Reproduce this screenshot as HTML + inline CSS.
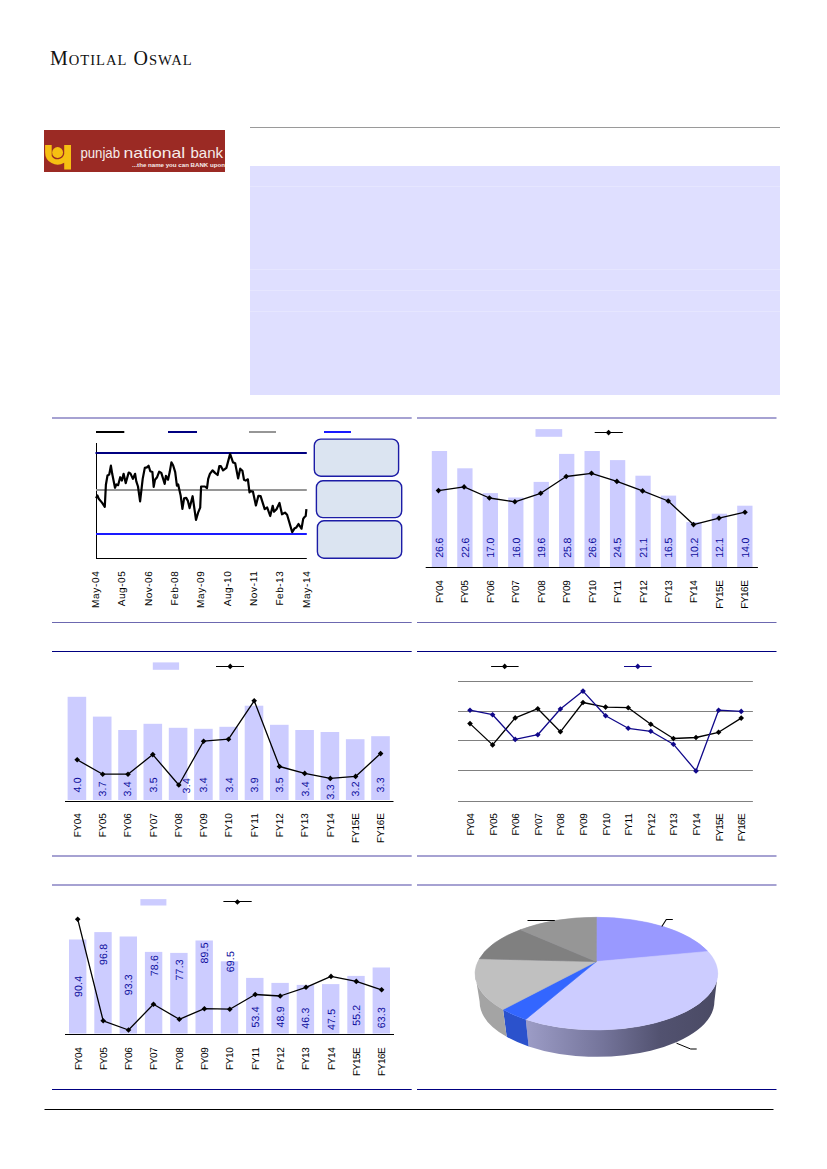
<!DOCTYPE html>
<html><head><meta charset="utf-8"><style>
html,body{margin:0;padding:0;background:#fff;}
body{width:827px;height:1169px;position:relative;overflow:hidden;font-family:"Liberation Sans",sans-serif;}
.logo{position:absolute;left:44px;top:130px;width:181px;height:42px;background:#9b2a24;overflow:hidden;}
.mo{position:absolute;left:50px;top:47px;font-family:"Liberation Serif",serif;font-size:20px;letter-spacing:1.0px;color:#111;white-space:nowrap;}
.mo small{font-size:14.6px;}
.gl{position:absolute;left:250px;top:127px;width:530px;height:1px;background:#9a9a9a;}
.box{position:absolute;left:250px;top:166px;width:530px;height:229px;background:#dfdfff;}
.box i{position:absolute;left:0;width:530px;height:1px;background:#e6e6ff;}
svg{position:absolute;left:0;top:0;}
</style></head><body>
<div class="mo">M<small>OTILAL</small> O<small>SWAL</small></div>
<div class="gl"></div>
<div class="box"><i style="top:20px"></i><i style="top:103px"></i><i style="top:124px"></i><i style="top:145px"></i></div>
<div class="logo">
<svg width="181" height="42" viewBox="0 0 181 42" style="position:absolute;left:0;top:0">
<path d="M1.1 14.9 H7.7 V25.9 A6.8 6.8 0 0 0 20.2 24.1 V14.9 H27 V39.6 H20.2 V32.8 A12.5 12.5 0 0 1 1.1 22.2 Z" fill="#f6bf12"/>
<circle cx="13.6" cy="22.5" r="5.45" fill="#f6bf12"/>
<g font-family="Liberation Sans" font-size="15" fill="#f6ecea" lengthAdjust="spacingAndGlyphs">
<text x="36.4" y="28.4" textLength="39.6" lengthAdjust="spacingAndGlyphs">punjab</text>
<text x="79.6" y="28.4" textLength="61.6" lengthAdjust="spacingAndGlyphs">national</text>
<text x="146.5" y="28.4" textLength="32.6" lengthAdjust="spacingAndGlyphs">bank</text>
</g>
<text x="88" y="37" font-family="Liberation Sans" font-size="6" font-weight="bold" fill="#f6ecea" textLength="95" lengthAdjust="spacingAndGlyphs">...the name you can BANK upon!</text>
</svg></div>
<svg width="827" height="1169" viewBox="0 0 827 1169" font-family="Liberation Sans, sans-serif">
<line x1="52" y1="418" x2="411.7" y2="418" stroke="#a6a2d2" stroke-width="2"/>
<line x1="417" y1="418" x2="776.5" y2="418" stroke="#a6a2d2" stroke-width="2"/>
<line x1="52" y1="622.5" x2="411.7" y2="622.5" stroke="#6c68b0" stroke-width="1"/>
<line x1="417" y1="622.5" x2="776.5" y2="622.5" stroke="#6c68b0" stroke-width="1"/>
<line x1="52" y1="651.5" x2="411.7" y2="651.5" stroke="#000080" stroke-width="1"/>
<line x1="417" y1="651.5" x2="776.5" y2="651.5" stroke="#000080" stroke-width="1"/>
<line x1="52" y1="856" x2="411.7" y2="856" stroke="#a6a2d2" stroke-width="2"/>
<line x1="417" y1="856" x2="776.5" y2="856" stroke="#a6a2d2" stroke-width="2"/>
<line x1="52" y1="885" x2="411.7" y2="885" stroke="#a6a2d2" stroke-width="2"/>
<line x1="417" y1="885" x2="776.5" y2="885" stroke="#a6a2d2" stroke-width="2"/>
<line x1="52" y1="1089.5" x2="411.7" y2="1089.5" stroke="#000080" stroke-width="1"/>
<line x1="417" y1="1089.5" x2="776.5" y2="1089.5" stroke="#000080" stroke-width="1"/>
<line x1="44.5" y1="1109.5" x2="773.5" y2="1109.5" stroke="#000" stroke-width="1"/>
<line x1="96.5" y1="443" x2="96.5" y2="558.5" stroke="#000" stroke-width="1"/>
<line x1="96" y1="558.5" x2="306.8" y2="558.5" stroke="#000" stroke-width="1"/>
<line x1="95.5" y1="453" x2="306.8" y2="453" stroke="#000080" stroke-width="2"/>
<line x1="96" y1="490" x2="306.8" y2="490" stroke="#969696" stroke-width="2"/>
<line x1="96" y1="534" x2="306.8" y2="534" stroke="#1a1aff" stroke-width="2"/>
<line x1="96" y1="432" x2="124.3" y2="432" stroke="#000" stroke-width="2"/>
<line x1="168" y1="432" x2="197" y2="432" stroke="#000080" stroke-width="2"/>
<line x1="249" y1="432" x2="276" y2="432" stroke="#969696" stroke-width="2"/>
<line x1="324" y1="432" x2="351" y2="432" stroke="#1a1aff" stroke-width="2"/>
<path d="M96.10 498.30 L97.40 495.40 L98.70 498.70 L102.00 502.60 L104.80 506.80 L105.90 484.80 L107.50 475.50 L109.20 474.60 L110.90 465.70 L112.20 473.80 L115.00 487.70 L116.40 484.40 L118.10 485.20 L120.20 477.20 L121.90 480.60 L123.60 473.80 L125.70 483.10 L128.70 472.50 L130.40 473.40 L132.90 478.90 L135.10 473.80 L136.30 481.40 L138.00 486.50 L140.10 501.30 L142.70 478.90 L144.80 467.90 L146.90 467.40 L148.60 465.70 L150.30 471.20 L152.40 472.10 L153.70 486.90 L155.00 479.70 L157.10 477.20 L159.20 471.70 L161.30 472.90 L164.70 483.90 L165.90 475.90 L168.00 479.70 L169.70 472.10 L171.40 462.40 L173.10 465.30 L175.20 472.10 L176.90 485.60 L178.20 484.40 L179.00 488.20 L180.70 495.80 L182.40 508.90 L184.10 498.30 L186.20 497.90 L187.90 500.90 L189.60 508.10 L192.60 496.20 L196.00 519.90 L198.10 512.70 L200.20 507.60 L201.10 486.50 L204.90 486.50 L207.00 488.20 L208.20 478.90 L209.90 473.80 L212.50 470.40 L215.00 472.90 L217.60 475.00 L219.30 466.20 L220.90 466.20 L223.10 470.40 L226.40 467.90 L230.10 453.90 L233.00 462.40 L235.20 463.20 L238.10 478.40 L240.20 468.70 L242.40 470.80 L244.00 479.70 L245.70 480.60 L247.90 479.30 L249.50 492.40 L250.40 491.10 L252.90 491.60 L255.90 505.50 L258.40 495.80 L260.60 496.20 L264.70 509.20 L267.20 507.50 L270.20 516.00 L272.70 505.80 L274.00 511.70 L276.50 509.20 L279.50 502.90 L282.00 514.30 L285.00 512.60 L287.10 514.70 L292.20 532.10 L294.70 528.20 L296.40 527.40 L298.50 524.00 L301.50 528.70 L303.20 518.90 L304.40 517.20 L305.70 516.00 L306.40 509.20" fill="none" stroke="#000" stroke-width="2.2" stroke-linejoin="round"/>
<rect x="314.3" y="439.1" width="84.3" height="37.1" rx="6.5" ry="6.5" fill="#dbe4f1" stroke="#1c1ca6" stroke-width="1.4"/>
<rect x="316.4" y="480.8" width="85.3" height="36.8" rx="6.5" ry="6.5" fill="#dbe4f1" stroke="#1c1ca6" stroke-width="1.4"/>
<rect x="317.4" y="520.8" width="84.3" height="37.4" rx="6.5" ry="6.5" fill="#dbe4f1" stroke="#1c1ca6" stroke-width="1.4"/>
<text transform="translate(98.90,571.30) rotate(-90) scale(1,1)" text-rendering="geometricPrecision" text-anchor="end" font-size="10" fill="#000" textLength="36.60" lengthAdjust="spacing">May-04</text>
<text transform="translate(125.25,571.30) rotate(-90) scale(1,1)" text-rendering="geometricPrecision" text-anchor="end" font-size="10" fill="#000" textLength="35.00" lengthAdjust="spacing">Aug-05</text>
<text transform="translate(151.60,571.30) rotate(-90) scale(1,1)" text-rendering="geometricPrecision" text-anchor="end" font-size="10" fill="#000" textLength="34.80" lengthAdjust="spacing">Nov-06</text>
<text transform="translate(177.95,571.30) rotate(-90) scale(1,1)" text-rendering="geometricPrecision" text-anchor="end" font-size="10" fill="#000" textLength="34.20" lengthAdjust="spacing">Feb-08</text>
<text transform="translate(204.30,571.30) rotate(-90) scale(1,1)" text-rendering="geometricPrecision" text-anchor="end" font-size="10" fill="#000" textLength="36.60" lengthAdjust="spacing">May-09</text>
<text transform="translate(230.65,571.30) rotate(-90) scale(1,1)" text-rendering="geometricPrecision" text-anchor="end" font-size="10" fill="#000" textLength="35.00" lengthAdjust="spacing">Aug-10</text>
<text transform="translate(257.00,571.30) rotate(-90) scale(1,1)" text-rendering="geometricPrecision" text-anchor="end" font-size="10" fill="#000" textLength="34.80" lengthAdjust="spacing">Nov-11</text>
<text transform="translate(283.35,571.30) rotate(-90) scale(1,1)" text-rendering="geometricPrecision" text-anchor="end" font-size="10" fill="#000" textLength="34.20" lengthAdjust="spacing">Feb-13</text>
<text transform="translate(309.70,571.30) rotate(-90) scale(1,1)" text-rendering="geometricPrecision" text-anchor="end" font-size="10" fill="#000" textLength="36.60" lengthAdjust="spacing">May-14</text>
<rect x="431.8" y="451" width="15.3" height="116" fill="#ccccff"/>
<rect x="457.25" y="468.3" width="15.3" height="98.69999999999999" fill="#ccccff"/>
<rect x="482.7" y="493.1" width="15.3" height="73.89999999999998" fill="#ccccff"/>
<rect x="508.15" y="497.5" width="15.3" height="69.5" fill="#ccccff"/>
<rect x="533.6" y="481.9" width="15.3" height="85.10000000000002" fill="#ccccff"/>
<rect x="559.05" y="453.9" width="15.3" height="113.10000000000002" fill="#ccccff"/>
<rect x="584.5" y="451" width="15.3" height="116" fill="#ccccff"/>
<rect x="609.95" y="460.1" width="15.3" height="106.89999999999998" fill="#ccccff"/>
<rect x="635.4" y="475.7" width="15.3" height="91.30000000000001" fill="#ccccff"/>
<rect x="660.85" y="495.6" width="15.3" height="71.39999999999998" fill="#ccccff"/>
<rect x="686.3" y="522.1" width="15.3" height="44.89999999999998" fill="#ccccff"/>
<rect x="711.75" y="513.7" width="15.3" height="53.299999999999955" fill="#ccccff"/>
<rect x="737.2" y="505.7" width="15.3" height="61.30000000000001" fill="#ccccff"/>
<line x1="425.7" y1="567.5" x2="757.9" y2="567.5" stroke="#000" stroke-width="1"/>
<path d="M438.50 490.60 L464.10 486.90 L489.40 498.00 L514.90 501.80 L540.70 493.30 L566.20 476.50 L591.50 473.30 L616.90 481.40 L642.60 490.90 L668.20 501.00 L693.50 524.60 L719.00 518.10 L745.00 512.20" fill="none" stroke="#000" stroke-width="1.3" stroke-linejoin="round"/>
<path d="M438.50 487.80L441.30 490.60L438.50 493.40L435.70 490.60Z" fill="#000"/>
<path d="M464.10 484.10L466.90 486.90L464.10 489.70L461.30 486.90Z" fill="#000"/>
<path d="M489.40 495.20L492.20 498.00L489.40 500.80L486.60 498.00Z" fill="#000"/>
<path d="M514.90 499.00L517.70 501.80L514.90 504.60L512.10 501.80Z" fill="#000"/>
<path d="M540.70 490.50L543.50 493.30L540.70 496.10L537.90 493.30Z" fill="#000"/>
<path d="M566.20 473.70L569.00 476.50L566.20 479.30L563.40 476.50Z" fill="#000"/>
<path d="M591.50 470.50L594.30 473.30L591.50 476.10L588.70 473.30Z" fill="#000"/>
<path d="M616.90 478.60L619.70 481.40L616.90 484.20L614.10 481.40Z" fill="#000"/>
<path d="M642.60 488.10L645.40 490.90L642.60 493.70L639.80 490.90Z" fill="#000"/>
<path d="M668.20 498.20L671.00 501.00L668.20 503.80L665.40 501.00Z" fill="#000"/>
<path d="M693.50 521.80L696.30 524.60L693.50 527.40L690.70 524.60Z" fill="#000"/>
<path d="M719.00 515.30L721.80 518.10L719.00 520.90L716.20 518.10Z" fill="#000"/>
<path d="M745.00 509.40L747.80 512.20L745.00 515.00L742.20 512.20Z" fill="#000"/>
<text transform="translate(443.30,557.70) rotate(-90) scale(1,1)" text-rendering="geometricPrecision" text-anchor="start" font-size="10.5" fill="#0c0c9c" textLength="20.00" lengthAdjust="spacing">26.6</text>
<text transform="translate(468.75,557.70) rotate(-90) scale(1,1)" text-rendering="geometricPrecision" text-anchor="start" font-size="10.5" fill="#0c0c9c" textLength="20.00" lengthAdjust="spacing">22.6</text>
<text transform="translate(494.20,557.70) rotate(-90) scale(1,1)" text-rendering="geometricPrecision" text-anchor="start" font-size="10.5" fill="#0c0c9c" textLength="20.00" lengthAdjust="spacing">17.0</text>
<text transform="translate(519.65,557.70) rotate(-90) scale(1,1)" text-rendering="geometricPrecision" text-anchor="start" font-size="10.5" fill="#0c0c9c" textLength="20.00" lengthAdjust="spacing">16.0</text>
<text transform="translate(545.10,557.70) rotate(-90) scale(1,1)" text-rendering="geometricPrecision" text-anchor="start" font-size="10.5" fill="#0c0c9c" textLength="20.00" lengthAdjust="spacing">19.6</text>
<text transform="translate(570.55,557.70) rotate(-90) scale(1,1)" text-rendering="geometricPrecision" text-anchor="start" font-size="10.5" fill="#0c0c9c" textLength="20.00" lengthAdjust="spacing">25.8</text>
<text transform="translate(596.00,557.70) rotate(-90) scale(1,1)" text-rendering="geometricPrecision" text-anchor="start" font-size="10.5" fill="#0c0c9c" textLength="20.00" lengthAdjust="spacing">26.6</text>
<text transform="translate(621.45,557.70) rotate(-90) scale(1,1)" text-rendering="geometricPrecision" text-anchor="start" font-size="10.5" fill="#0c0c9c" textLength="20.00" lengthAdjust="spacing">24.5</text>
<text transform="translate(646.90,557.70) rotate(-90) scale(1,1)" text-rendering="geometricPrecision" text-anchor="start" font-size="10.5" fill="#0c0c9c" textLength="20.00" lengthAdjust="spacing">21.1</text>
<text transform="translate(672.35,557.70) rotate(-90) scale(1,1)" text-rendering="geometricPrecision" text-anchor="start" font-size="10.5" fill="#0c0c9c" textLength="20.00" lengthAdjust="spacing">16.5</text>
<text transform="translate(697.80,557.70) rotate(-90) scale(1,1)" text-rendering="geometricPrecision" text-anchor="start" font-size="10.5" fill="#0c0c9c" textLength="20.00" lengthAdjust="spacing">10.2</text>
<text transform="translate(723.25,557.70) rotate(-90) scale(1,1)" text-rendering="geometricPrecision" text-anchor="start" font-size="10.5" fill="#0c0c9c" textLength="20.00" lengthAdjust="spacing">12.1</text>
<text transform="translate(748.70,557.70) rotate(-90) scale(1,1)" text-rendering="geometricPrecision" text-anchor="start" font-size="10.5" fill="#0c0c9c" textLength="20.00" lengthAdjust="spacing">14.0</text>
<text transform="translate(442.90,580.20) rotate(-90) scale(1,1)" text-rendering="geometricPrecision" text-anchor="end" font-size="10" fill="#000" textLength="22.80" lengthAdjust="spacing">FY04</text>
<text transform="translate(468.35,580.20) rotate(-90) scale(1,1)" text-rendering="geometricPrecision" text-anchor="end" font-size="10" fill="#000" textLength="22.80" lengthAdjust="spacing">FY05</text>
<text transform="translate(493.80,580.20) rotate(-90) scale(1,1)" text-rendering="geometricPrecision" text-anchor="end" font-size="10" fill="#000" textLength="22.80" lengthAdjust="spacing">FY06</text>
<text transform="translate(519.25,580.20) rotate(-90) scale(1,1)" text-rendering="geometricPrecision" text-anchor="end" font-size="10" fill="#000" textLength="22.80" lengthAdjust="spacing">FY07</text>
<text transform="translate(544.70,580.20) rotate(-90) scale(1,1)" text-rendering="geometricPrecision" text-anchor="end" font-size="10" fill="#000" textLength="22.80" lengthAdjust="spacing">FY08</text>
<text transform="translate(570.15,580.20) rotate(-90) scale(1,1)" text-rendering="geometricPrecision" text-anchor="end" font-size="10" fill="#000" textLength="22.80" lengthAdjust="spacing">FY09</text>
<text transform="translate(595.60,580.20) rotate(-90) scale(1,1)" text-rendering="geometricPrecision" text-anchor="end" font-size="10" fill="#000" textLength="22.80" lengthAdjust="spacing">FY10</text>
<text transform="translate(621.05,580.20) rotate(-90) scale(1,1)" text-rendering="geometricPrecision" text-anchor="end" font-size="10" fill="#000" textLength="22.80" lengthAdjust="spacing">FY11</text>
<text transform="translate(646.50,580.20) rotate(-90) scale(1,1)" text-rendering="geometricPrecision" text-anchor="end" font-size="10" fill="#000" textLength="22.80" lengthAdjust="spacing">FY12</text>
<text transform="translate(671.95,580.20) rotate(-90) scale(1,1)" text-rendering="geometricPrecision" text-anchor="end" font-size="10" fill="#000" textLength="22.80" lengthAdjust="spacing">FY13</text>
<text transform="translate(697.40,580.20) rotate(-90) scale(1,1)" text-rendering="geometricPrecision" text-anchor="end" font-size="10" fill="#000" textLength="22.80" lengthAdjust="spacing">FY14</text>
<text transform="translate(722.85,580.20) rotate(-90) scale(1,1)" text-rendering="geometricPrecision" text-anchor="end" font-size="10" fill="#000" textLength="28.50" lengthAdjust="spacing">FY15E</text>
<text transform="translate(748.30,580.20) rotate(-90) scale(1,1)" text-rendering="geometricPrecision" text-anchor="end" font-size="10" fill="#000" textLength="28.50" lengthAdjust="spacing">FY16E</text>
<rect x="535.5" y="429.1" width="26.7" height="7.7" fill="#ccccff"/>
<line x1="594.7" y1="432.5" x2="622.8" y2="432.5" stroke="#000" stroke-width="1"/>
<path d="M608.60 429.80L611.40 432.60L608.60 435.40L605.80 432.60Z" fill="#000"/>
<rect x="67.6" y="696.8" width="18.6" height="103.20000000000005" fill="#ccccff"/>
<rect x="92.89999999999999" y="716.6" width="18.6" height="83.39999999999998" fill="#ccccff"/>
<rect x="118.2" y="730" width="18.6" height="70" fill="#ccccff"/>
<rect x="143.5" y="723.8" width="18.6" height="76.20000000000005" fill="#ccccff"/>
<rect x="168.8" y="727.8" width="18.6" height="72.20000000000005" fill="#ccccff"/>
<rect x="194.10000000000002" y="728.8" width="18.6" height="71.20000000000005" fill="#ccccff"/>
<rect x="219.40000000000003" y="726.8" width="18.6" height="73.20000000000005" fill="#ccccff"/>
<rect x="244.7" y="705.7" width="18.6" height="94.29999999999995" fill="#ccccff"/>
<rect x="270.0" y="724.8" width="18.6" height="75.20000000000005" fill="#ccccff"/>
<rect x="295.3" y="730" width="18.6" height="70" fill="#ccccff"/>
<rect x="320.6" y="732" width="18.6" height="68" fill="#ccccff"/>
<rect x="345.90000000000003" y="739.2" width="18.6" height="60.799999999999955" fill="#ccccff"/>
<rect x="371.20000000000005" y="736.2" width="18.6" height="63.799999999999955" fill="#ccccff"/>
<line x1="65" y1="801.5" x2="393.5" y2="801.5" stroke="#000" stroke-width="1"/>
<path d="M77.20 759.80 L102.70 774.20 L128.00 774.20 L152.80 754.60 L178.80 785.00 L203.60 741.20 L228.50 739.20 L254.20 700.80 L279.50 766.50 L304.70 773.40 L330.30 778.40 L355.60 776.40 L380.60 753.60" fill="none" stroke="#000" stroke-width="1.3" stroke-linejoin="round"/>
<path d="M77.20 757.00L80.00 759.80L77.20 762.60L74.40 759.80Z" fill="#000"/>
<path d="M102.70 771.40L105.50 774.20L102.70 777.00L99.90 774.20Z" fill="#000"/>
<path d="M128.00 771.40L130.80 774.20L128.00 777.00L125.20 774.20Z" fill="#000"/>
<path d="M152.80 751.80L155.60 754.60L152.80 757.40L150.00 754.60Z" fill="#000"/>
<path d="M178.80 782.20L181.60 785.00L178.80 787.80L176.00 785.00Z" fill="#000"/>
<path d="M203.60 738.40L206.40 741.20L203.60 744.00L200.80 741.20Z" fill="#000"/>
<path d="M228.50 736.40L231.30 739.20L228.50 742.00L225.70 739.20Z" fill="#000"/>
<path d="M254.20 698.00L257.00 700.80L254.20 703.60L251.40 700.80Z" fill="#000"/>
<path d="M279.50 763.70L282.30 766.50L279.50 769.30L276.70 766.50Z" fill="#000"/>
<path d="M304.70 770.60L307.50 773.40L304.70 776.20L301.90 773.40Z" fill="#000"/>
<path d="M330.30 775.60L333.10 778.40L330.30 781.20L327.50 778.40Z" fill="#000"/>
<path d="M355.60 773.60L358.40 776.40L355.60 779.20L352.80 776.40Z" fill="#000"/>
<path d="M380.60 750.80L383.40 753.60L380.60 756.40L377.80 753.60Z" fill="#000"/>
<text transform="translate(80.80,792.60) rotate(-90) scale(1,1)" text-rendering="geometricPrecision" text-anchor="start" font-size="10.5" fill="#0c0c9c" textLength="15.30" lengthAdjust="spacing">4.0</text>
<text transform="translate(106.10,796.60) rotate(-90) scale(1,1)" text-rendering="geometricPrecision" text-anchor="start" font-size="10.5" fill="#0c0c9c" textLength="15.30" lengthAdjust="spacing">3.7</text>
<text transform="translate(131.40,796.60) rotate(-90) scale(1,1)" text-rendering="geometricPrecision" text-anchor="start" font-size="10.5" fill="#0c0c9c" textLength="15.30" lengthAdjust="spacing">3.4</text>
<text transform="translate(156.70,792.60) rotate(-90) scale(1,1)" text-rendering="geometricPrecision" text-anchor="start" font-size="10.5" fill="#0c0c9c" textLength="15.30" lengthAdjust="spacing">3.5</text>
<text transform="translate(190.40,793.40) rotate(-90) scale(1,1)" text-rendering="geometricPrecision" text-anchor="start" font-size="10.5" fill="#0c0c9c" textLength="15.30" lengthAdjust="spacing">3.4</text>
<text transform="translate(207.30,792.60) rotate(-90) scale(1,1)" text-rendering="geometricPrecision" text-anchor="start" font-size="10.5" fill="#0c0c9c" textLength="15.30" lengthAdjust="spacing">3.4</text>
<text transform="translate(232.60,792.60) rotate(-90) scale(1,1)" text-rendering="geometricPrecision" text-anchor="start" font-size="10.5" fill="#0c0c9c" textLength="15.30" lengthAdjust="spacing">3.4</text>
<text transform="translate(257.90,792.60) rotate(-90) scale(1,1)" text-rendering="geometricPrecision" text-anchor="start" font-size="10.5" fill="#0c0c9c" textLength="15.30" lengthAdjust="spacing">3.9</text>
<text transform="translate(283.20,792.60) rotate(-90) scale(1,1)" text-rendering="geometricPrecision" text-anchor="start" font-size="10.5" fill="#0c0c9c" textLength="15.30" lengthAdjust="spacing">3.5</text>
<text transform="translate(308.50,796.60) rotate(-90) scale(1,1)" text-rendering="geometricPrecision" text-anchor="start" font-size="10.5" fill="#0c0c9c" textLength="15.30" lengthAdjust="spacing">3.4</text>
<text transform="translate(333.80,799.60) rotate(-90) scale(1,1)" text-rendering="geometricPrecision" text-anchor="start" font-size="10.5" fill="#0c0c9c" textLength="15.30" lengthAdjust="spacing">3.3</text>
<text transform="translate(359.10,796.60) rotate(-90) scale(1,1)" text-rendering="geometricPrecision" text-anchor="start" font-size="10.5" fill="#0c0c9c" textLength="15.30" lengthAdjust="spacing">3.2</text>
<text transform="translate(384.40,792.60) rotate(-90) scale(1,1)" text-rendering="geometricPrecision" text-anchor="start" font-size="10.5" fill="#0c0c9c" textLength="15.30" lengthAdjust="spacing">3.3</text>
<text transform="translate(80.60,813.20) rotate(-90) scale(1,1)" text-rendering="geometricPrecision" text-anchor="end" font-size="10" fill="#000" textLength="24.00" lengthAdjust="spacing">FY04</text>
<text transform="translate(105.90,813.20) rotate(-90) scale(1,1)" text-rendering="geometricPrecision" text-anchor="end" font-size="10" fill="#000" textLength="24.00" lengthAdjust="spacing">FY05</text>
<text transform="translate(131.20,813.20) rotate(-90) scale(1,1)" text-rendering="geometricPrecision" text-anchor="end" font-size="10" fill="#000" textLength="24.00" lengthAdjust="spacing">FY06</text>
<text transform="translate(156.50,813.20) rotate(-90) scale(1,1)" text-rendering="geometricPrecision" text-anchor="end" font-size="10" fill="#000" textLength="24.00" lengthAdjust="spacing">FY07</text>
<text transform="translate(181.80,813.20) rotate(-90) scale(1,1)" text-rendering="geometricPrecision" text-anchor="end" font-size="10" fill="#000" textLength="24.00" lengthAdjust="spacing">FY08</text>
<text transform="translate(207.10,813.20) rotate(-90) scale(1,1)" text-rendering="geometricPrecision" text-anchor="end" font-size="10" fill="#000" textLength="24.00" lengthAdjust="spacing">FY09</text>
<text transform="translate(232.40,813.20) rotate(-90) scale(1,1)" text-rendering="geometricPrecision" text-anchor="end" font-size="10" fill="#000" textLength="24.00" lengthAdjust="spacing">FY10</text>
<text transform="translate(257.70,813.20) rotate(-90) scale(1,1)" text-rendering="geometricPrecision" text-anchor="end" font-size="10" fill="#000" textLength="24.00" lengthAdjust="spacing">FY11</text>
<text transform="translate(283.00,813.20) rotate(-90) scale(1,1)" text-rendering="geometricPrecision" text-anchor="end" font-size="10" fill="#000" textLength="24.00" lengthAdjust="spacing">FY12</text>
<text transform="translate(308.30,813.20) rotate(-90) scale(1,1)" text-rendering="geometricPrecision" text-anchor="end" font-size="10" fill="#000" textLength="24.00" lengthAdjust="spacing">FY13</text>
<text transform="translate(333.60,813.20) rotate(-90) scale(1,1)" text-rendering="geometricPrecision" text-anchor="end" font-size="10" fill="#000" textLength="24.00" lengthAdjust="spacing">FY14</text>
<text transform="translate(358.90,813.20) rotate(-90) scale(1,1)" text-rendering="geometricPrecision" text-anchor="end" font-size="10" fill="#000" textLength="29.80" lengthAdjust="spacing">FY15E</text>
<text transform="translate(384.20,813.20) rotate(-90) scale(1,1)" text-rendering="geometricPrecision" text-anchor="end" font-size="10" fill="#000" textLength="29.80" lengthAdjust="spacing">FY16E</text>
<rect x="152.8" y="662.4" width="26.3" height="7.4" fill="#ccccff"/>
<line x1="216" y1="666.5" x2="244" y2="666.5" stroke="#000" stroke-width="1"/>
<path d="M230.20 663.60L233.00 666.40L230.20 669.20L227.40 666.40Z" fill="#000"/>
<line x1="458" y1="681.5" x2="752.9" y2="681.5" stroke="#808080" stroke-width="1"/>
<line x1="458" y1="711.5" x2="752.9" y2="711.5" stroke="#808080" stroke-width="1"/>
<line x1="458" y1="740.5" x2="752.9" y2="740.5" stroke="#808080" stroke-width="1"/>
<line x1="458" y1="770.5" x2="752.9" y2="770.5" stroke="#808080" stroke-width="1"/>
<line x1="458" y1="801.5" x2="752.9" y2="801.5" stroke="#808080" stroke-width="1"/>
<path d="M470.00 723.60 L492.60 744.90 L515.20 717.90 L537.80 708.70 L560.40 731.80 L583.00 702.50 L605.60 707.10 L628.20 707.70 L650.80 724.30 L673.40 738.50 L696.00 737.50 L718.60 732.30 L741.20 718.10" fill="none" stroke="#000" stroke-width="1.3" stroke-linejoin="round"/>
<path d="M470.00 710.20 L492.60 714.70 L515.20 739.40 L537.80 734.70 L560.40 709.00 L583.00 691.10 L605.60 715.70 L628.20 728.30 L650.80 731.30 L673.40 744.20 L696.00 770.90 L718.60 710.20 L741.20 711.40" fill="none" stroke="#10088a" stroke-width="1.3" stroke-linejoin="round"/>
<path d="M470.00 720.80L472.80 723.60L470.00 726.40L467.20 723.60Z" fill="#000"/>
<path d="M492.60 742.10L495.40 744.90L492.60 747.70L489.80 744.90Z" fill="#000"/>
<path d="M515.20 715.10L518.00 717.90L515.20 720.70L512.40 717.90Z" fill="#000"/>
<path d="M537.80 705.90L540.60 708.70L537.80 711.50L535.00 708.70Z" fill="#000"/>
<path d="M560.40 729.00L563.20 731.80L560.40 734.60L557.60 731.80Z" fill="#000"/>
<path d="M583.00 699.70L585.80 702.50L583.00 705.30L580.20 702.50Z" fill="#000"/>
<path d="M605.60 704.30L608.40 707.10L605.60 709.90L602.80 707.10Z" fill="#000"/>
<path d="M628.20 704.90L631.00 707.70L628.20 710.50L625.40 707.70Z" fill="#000"/>
<path d="M650.80 721.50L653.60 724.30L650.80 727.10L648.00 724.30Z" fill="#000"/>
<path d="M673.40 735.70L676.20 738.50L673.40 741.30L670.60 738.50Z" fill="#000"/>
<path d="M696.00 734.70L698.80 737.50L696.00 740.30L693.20 737.50Z" fill="#000"/>
<path d="M718.60 729.50L721.40 732.30L718.60 735.10L715.80 732.30Z" fill="#000"/>
<path d="M741.20 715.30L744.00 718.10L741.20 720.90L738.40 718.10Z" fill="#000"/>
<path d="M470.00 707.40L472.80 710.20L470.00 713.00L467.20 710.20Z" fill="#10088a"/>
<path d="M492.60 711.90L495.40 714.70L492.60 717.50L489.80 714.70Z" fill="#10088a"/>
<path d="M515.20 736.60L518.00 739.40L515.20 742.20L512.40 739.40Z" fill="#10088a"/>
<path d="M537.80 731.90L540.60 734.70L537.80 737.50L535.00 734.70Z" fill="#10088a"/>
<path d="M560.40 706.20L563.20 709.00L560.40 711.80L557.60 709.00Z" fill="#10088a"/>
<path d="M583.00 688.30L585.80 691.10L583.00 693.90L580.20 691.10Z" fill="#10088a"/>
<path d="M605.60 712.90L608.40 715.70L605.60 718.50L602.80 715.70Z" fill="#10088a"/>
<path d="M628.20 725.50L631.00 728.30L628.20 731.10L625.40 728.30Z" fill="#10088a"/>
<path d="M650.80 728.50L653.60 731.30L650.80 734.10L648.00 731.30Z" fill="#10088a"/>
<path d="M673.40 741.40L676.20 744.20L673.40 747.00L670.60 744.20Z" fill="#10088a"/>
<path d="M696.00 768.10L698.80 770.90L696.00 773.70L693.20 770.90Z" fill="#10088a"/>
<path d="M718.60 707.40L721.40 710.20L718.60 713.00L715.80 710.20Z" fill="#10088a"/>
<path d="M741.20 708.60L744.00 711.40L741.20 714.20L738.40 711.40Z" fill="#10088a"/>
<text transform="translate(474.00,813.30) rotate(-90) scale(1,1)" text-rendering="geometricPrecision" text-anchor="end" font-size="10" fill="#000" textLength="22.30" lengthAdjust="spacing">FY04</text>
<text transform="translate(496.60,813.30) rotate(-90) scale(1,1)" text-rendering="geometricPrecision" text-anchor="end" font-size="10" fill="#000" textLength="22.30" lengthAdjust="spacing">FY05</text>
<text transform="translate(519.20,813.30) rotate(-90) scale(1,1)" text-rendering="geometricPrecision" text-anchor="end" font-size="10" fill="#000" textLength="22.30" lengthAdjust="spacing">FY06</text>
<text transform="translate(541.80,813.30) rotate(-90) scale(1,1)" text-rendering="geometricPrecision" text-anchor="end" font-size="10" fill="#000" textLength="22.30" lengthAdjust="spacing">FY07</text>
<text transform="translate(564.40,813.30) rotate(-90) scale(1,1)" text-rendering="geometricPrecision" text-anchor="end" font-size="10" fill="#000" textLength="22.30" lengthAdjust="spacing">FY08</text>
<text transform="translate(587.00,813.30) rotate(-90) scale(1,1)" text-rendering="geometricPrecision" text-anchor="end" font-size="10" fill="#000" textLength="22.30" lengthAdjust="spacing">FY09</text>
<text transform="translate(609.60,813.30) rotate(-90) scale(1,1)" text-rendering="geometricPrecision" text-anchor="end" font-size="10" fill="#000" textLength="22.30" lengthAdjust="spacing">FY10</text>
<text transform="translate(632.20,813.30) rotate(-90) scale(1,1)" text-rendering="geometricPrecision" text-anchor="end" font-size="10" fill="#000" textLength="22.30" lengthAdjust="spacing">FY11</text>
<text transform="translate(654.80,813.30) rotate(-90) scale(1,1)" text-rendering="geometricPrecision" text-anchor="end" font-size="10" fill="#000" textLength="22.30" lengthAdjust="spacing">FY12</text>
<text transform="translate(677.40,813.30) rotate(-90) scale(1,1)" text-rendering="geometricPrecision" text-anchor="end" font-size="10" fill="#000" textLength="22.30" lengthAdjust="spacing">FY13</text>
<text transform="translate(700.00,813.30) rotate(-90) scale(1,1)" text-rendering="geometricPrecision" text-anchor="end" font-size="10" fill="#000" textLength="22.30" lengthAdjust="spacing">FY14</text>
<text transform="translate(722.60,813.30) rotate(-90) scale(1,1)" text-rendering="geometricPrecision" text-anchor="end" font-size="10" fill="#000" textLength="28.00" lengthAdjust="spacing">FY15E</text>
<text transform="translate(745.20,813.30) rotate(-90) scale(1,1)" text-rendering="geometricPrecision" text-anchor="end" font-size="10" fill="#000" textLength="28.00" lengthAdjust="spacing">FY16E</text>
<line x1="491.1" y1="666.5" x2="518.6" y2="666.5" stroke="#000" stroke-width="1"/>
<path d="M504.70 663.60L507.50 666.40L504.70 669.20L501.90 666.40Z" fill="#000"/>
<line x1="624" y1="666.5" x2="651.7" y2="666.5" stroke="#10088a" stroke-width="1"/>
<path d="M637.80 663.60L640.60 666.40L637.80 669.20L635.00 666.40Z" fill="#10088a"/>
<rect x="69.0" y="939.5" width="17.4" height="94.0" fill="#ccccff"/>
<rect x="94.3" y="932.1" width="17.4" height="101.39999999999998" fill="#ccccff"/>
<rect x="119.60000000000001" y="936.5" width="17.4" height="97.0" fill="#ccccff"/>
<rect x="144.90000000000003" y="951.9" width="17.4" height="81.60000000000002" fill="#ccccff"/>
<rect x="170.20000000000002" y="952.9" width="17.4" height="80.60000000000002" fill="#ccccff"/>
<rect x="195.5" y="940.5" width="17.4" height="93.0" fill="#ccccff"/>
<rect x="220.8" y="961.3" width="17.4" height="72.20000000000005" fill="#ccccff"/>
<rect x="246.10000000000002" y="977.9" width="17.4" height="55.60000000000002" fill="#ccccff"/>
<rect x="271.40000000000003" y="982.9" width="17.4" height="50.60000000000002" fill="#ccccff"/>
<rect x="296.70000000000005" y="984.9" width="17.4" height="48.60000000000002" fill="#ccccff"/>
<rect x="322.0" y="984.1" width="17.4" height="49.39999999999998" fill="#ccccff"/>
<rect x="347.3" y="975.9" width="17.4" height="57.60000000000002" fill="#ccccff"/>
<rect x="372.6" y="967.5" width="17.4" height="66.0" fill="#ccccff"/>
<line x1="65" y1="1034.5" x2="394" y2="1034.5" stroke="#000" stroke-width="1"/>
<path d="M77.70 919.20 L103.20 1020.80 L128.50 1030.00 L153.50 1004.20 L179.30 1019.30 L204.40 1008.70 L229.80 1009.20 L255.20 994.50 L280.20 996.00 L306.00 987.30 L331.00 976.40 L356.30 981.40 L381.60 989.80" fill="none" stroke="#000" stroke-width="1.3" stroke-linejoin="round"/>
<path d="M77.70 916.40L80.50 919.20L77.70 922.00L74.90 919.20Z" fill="#000"/>
<path d="M103.20 1018.00L106.00 1020.80L103.20 1023.60L100.40 1020.80Z" fill="#000"/>
<path d="M128.50 1027.20L131.30 1030.00L128.50 1032.80L125.70 1030.00Z" fill="#000"/>
<path d="M153.50 1001.40L156.30 1004.20L153.50 1007.00L150.70 1004.20Z" fill="#000"/>
<path d="M179.30 1016.50L182.10 1019.30L179.30 1022.10L176.50 1019.30Z" fill="#000"/>
<path d="M204.40 1005.90L207.20 1008.70L204.40 1011.50L201.60 1008.70Z" fill="#000"/>
<path d="M229.80 1006.40L232.60 1009.20L229.80 1012.00L227.00 1009.20Z" fill="#000"/>
<path d="M255.20 991.70L258.00 994.50L255.20 997.30L252.40 994.50Z" fill="#000"/>
<path d="M280.20 993.20L283.00 996.00L280.20 998.80L277.40 996.00Z" fill="#000"/>
<path d="M306.00 984.50L308.80 987.30L306.00 990.10L303.20 987.30Z" fill="#000"/>
<path d="M331.00 973.60L333.80 976.40L331.00 979.20L328.20 976.40Z" fill="#000"/>
<path d="M356.30 978.60L359.10 981.40L356.30 984.20L353.50 981.40Z" fill="#000"/>
<path d="M381.60 987.00L384.40 989.80L381.60 992.60L378.80 989.80Z" fill="#000"/>
<text transform="translate(81.70,997.00) rotate(-90) scale(1,1)" text-rendering="geometricPrecision" text-anchor="start" font-size="10.5" fill="#0c0c9c" textLength="21.00" lengthAdjust="spacing">90.4</text>
<text transform="translate(107.00,965.00) rotate(-90) scale(1,1)" text-rendering="geometricPrecision" text-anchor="start" font-size="10.5" fill="#0c0c9c" textLength="21.00" lengthAdjust="spacing">96.8</text>
<text transform="translate(132.30,995.30) rotate(-90) scale(1,1)" text-rendering="geometricPrecision" text-anchor="start" font-size="10.5" fill="#0c0c9c" textLength="21.00" lengthAdjust="spacing">93.3</text>
<text transform="translate(157.60,976.20) rotate(-90) scale(1,1)" text-rendering="geometricPrecision" text-anchor="start" font-size="10.5" fill="#0c0c9c" textLength="21.00" lengthAdjust="spacing">78.6</text>
<text transform="translate(182.90,980.40) rotate(-90) scale(1,1)" text-rendering="geometricPrecision" text-anchor="start" font-size="10.5" fill="#0c0c9c" textLength="21.00" lengthAdjust="spacing">77.3</text>
<text transform="translate(208.20,963.50) rotate(-90) scale(1,1)" text-rendering="geometricPrecision" text-anchor="start" font-size="10.5" fill="#0c0c9c" textLength="21.00" lengthAdjust="spacing">89.5</text>
<text transform="translate(233.50,972.20) rotate(-90) scale(1,1)" text-rendering="geometricPrecision" text-anchor="start" font-size="10.5" fill="#0c0c9c" textLength="21.00" lengthAdjust="spacing">69.5</text>
<text transform="translate(258.80,1027.50) rotate(-90) scale(1,1)" text-rendering="geometricPrecision" text-anchor="start" font-size="10.5" fill="#0c0c9c" textLength="21.00" lengthAdjust="spacing">53.4</text>
<text transform="translate(284.10,1027.50) rotate(-90) scale(1,1)" text-rendering="geometricPrecision" text-anchor="start" font-size="10.5" fill="#0c0c9c" textLength="21.00" lengthAdjust="spacing">48.9</text>
<text transform="translate(309.40,1028.70) rotate(-90) scale(1,1)" text-rendering="geometricPrecision" text-anchor="start" font-size="10.5" fill="#0c0c9c" textLength="21.00" lengthAdjust="spacing">46.3</text>
<text transform="translate(334.70,1030.00) rotate(-90) scale(1,1)" text-rendering="geometricPrecision" text-anchor="start" font-size="10.5" fill="#0c0c9c" textLength="21.00" lengthAdjust="spacing">47.5</text>
<text transform="translate(360.00,1025.80) rotate(-90) scale(1,1)" text-rendering="geometricPrecision" text-anchor="start" font-size="10.5" fill="#0c0c9c" textLength="21.00" lengthAdjust="spacing">55.2</text>
<text transform="translate(385.30,1028.20) rotate(-90) scale(1,1)" text-rendering="geometricPrecision" text-anchor="start" font-size="10.5" fill="#0c0c9c" textLength="21.00" lengthAdjust="spacing">63.3</text>
<text transform="translate(81.50,1047.30) rotate(-90) scale(1,1)" text-rendering="geometricPrecision" text-anchor="end" font-size="10" fill="#000" textLength="22.80" lengthAdjust="spacing">FY04</text>
<text transform="translate(106.80,1047.30) rotate(-90) scale(1,1)" text-rendering="geometricPrecision" text-anchor="end" font-size="10" fill="#000" textLength="22.80" lengthAdjust="spacing">FY05</text>
<text transform="translate(132.10,1047.30) rotate(-90) scale(1,1)" text-rendering="geometricPrecision" text-anchor="end" font-size="10" fill="#000" textLength="22.80" lengthAdjust="spacing">FY06</text>
<text transform="translate(157.40,1047.30) rotate(-90) scale(1,1)" text-rendering="geometricPrecision" text-anchor="end" font-size="10" fill="#000" textLength="22.80" lengthAdjust="spacing">FY07</text>
<text transform="translate(182.70,1047.30) rotate(-90) scale(1,1)" text-rendering="geometricPrecision" text-anchor="end" font-size="10" fill="#000" textLength="22.80" lengthAdjust="spacing">FY08</text>
<text transform="translate(208.00,1047.30) rotate(-90) scale(1,1)" text-rendering="geometricPrecision" text-anchor="end" font-size="10" fill="#000" textLength="22.80" lengthAdjust="spacing">FY09</text>
<text transform="translate(233.30,1047.30) rotate(-90) scale(1,1)" text-rendering="geometricPrecision" text-anchor="end" font-size="10" fill="#000" textLength="22.80" lengthAdjust="spacing">FY10</text>
<text transform="translate(258.60,1047.30) rotate(-90) scale(1,1)" text-rendering="geometricPrecision" text-anchor="end" font-size="10" fill="#000" textLength="22.80" lengthAdjust="spacing">FY11</text>
<text transform="translate(283.90,1047.30) rotate(-90) scale(1,1)" text-rendering="geometricPrecision" text-anchor="end" font-size="10" fill="#000" textLength="22.80" lengthAdjust="spacing">FY12</text>
<text transform="translate(309.20,1047.30) rotate(-90) scale(1,1)" text-rendering="geometricPrecision" text-anchor="end" font-size="10" fill="#000" textLength="22.80" lengthAdjust="spacing">FY13</text>
<text transform="translate(334.50,1047.30) rotate(-90) scale(1,1)" text-rendering="geometricPrecision" text-anchor="end" font-size="10" fill="#000" textLength="22.80" lengthAdjust="spacing">FY14</text>
<text transform="translate(359.80,1047.30) rotate(-90) scale(1,1)" text-rendering="geometricPrecision" text-anchor="end" font-size="10" fill="#000" textLength="28.60" lengthAdjust="spacing">FY15E</text>
<text transform="translate(385.10,1047.30) rotate(-90) scale(1,1)" text-rendering="geometricPrecision" text-anchor="end" font-size="10" fill="#000" textLength="28.60" lengthAdjust="spacing">FY16E</text>
<rect x="140.4" y="899.1" width="26" height="6.4" fill="#ccccff"/>
<line x1="223.4" y1="901.5" x2="251.7" y2="901.5" stroke="#000" stroke-width="1"/>
<path d="M237.40 899.20L240.20 902.00L237.40 904.80L234.60 902.00Z" fill="#000"/>
<defs><linearGradient id="lg" x1="527" y1="0" x2="717" y2="0" gradientUnits="userSpaceOnUse"><stop offset="0" stop-color="#9c9cc6"/><stop offset="0.4" stop-color="#74749a"/><stop offset="0.7" stop-color="#525270"/><stop offset="1" stop-color="#4a4a64"/></linearGradient></defs>
<path d="M717.70 973.60 A121.3 56.3 0 0 1 525.79 1019.38 L528.66 1046.48 A117.4 55.2 0 0 0 714.40 1001.60 Z" fill="url(#lg)"/>
<path d="M525.79 1019.38 A121.3 56.3 0 0 1 503.07 1009.56 L506.67 1036.86 A117.4 55.2 0 0 0 528.66 1046.48 Z" fill="#2b52cc"/>
<path d="M503.07 1009.56 A121.3 56.3 0 0 1 475.10 973.60 L479.60 1001.60 A117.4 55.2 0 0 0 506.67 1036.86 Z" fill="#a4a4a4"/>
<ellipse cx="596.4" cy="973.6" rx="121.0" ry="56.0" fill="#b0b0d8"/>
<path d="M596.3 961.6 L596.40 917.30 A121.3 56.3 0 0 1 707.89 951.42 Z" fill="#9999ff" stroke="#9999ff" stroke-width="0.6" stroke-linejoin="round"/>
<path d="M596.3 961.6 L707.89 951.42 A121.3 56.3 0 0 1 525.79 1019.38 Z" fill="#ccccff" stroke="#ccccff" stroke-width="0.6" stroke-linejoin="round"/>
<path d="M596.3 961.6 L525.79 1019.38 A121.3 56.3 0 0 1 503.07 1009.56 Z" fill="#3366ff" stroke="#3366ff" stroke-width="0.6" stroke-linejoin="round"/>
<path d="M596.3 961.6 L503.07 1009.56 A121.3 56.3 0 0 1 479.40 958.74 Z" fill="#c0c0c0" stroke="#c0c0c0" stroke-width="0.6" stroke-linejoin="round"/>
<path d="M596.3 961.6 L479.40 958.74 A121.3 56.3 0 0 1 520.39 929.72 Z" fill="#808080" stroke="#808080" stroke-width="0.6" stroke-linejoin="round"/>
<path d="M596.3 961.6 L520.39 929.72 A121.3 56.3 0 0 1 596.40 917.30 Z" fill="#969696" stroke="#969696" stroke-width="0.6" stroke-linejoin="round"/>
<path d="M527.50 920.50 L554.80 920.50" fill="none" stroke="#000" stroke-width="1" stroke-linejoin="round"/>
<path d="M661.80 926.50 L666.30 919.50 L672.80 919.50" fill="none" stroke="#000" stroke-width="1.1" stroke-linejoin="round"/>
<path d="M676.50 1043.20 L690.70 1049.00 L696.70 1049.00" fill="none" stroke="#000" stroke-width="1" stroke-linejoin="round"/>
</svg>
</body></html>
